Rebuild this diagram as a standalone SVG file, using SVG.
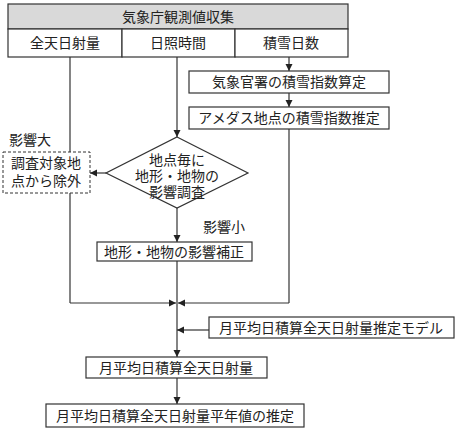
<svg xmlns="http://www.w3.org/2000/svg" width="460" height="429" viewBox="0 0 460 429">
<style>
.t{font-family:"Liberation Sans","Noto Sans CJK JP",sans-serif;font-size:14px;fill:#222;text-anchor:middle;dominant-baseline:central}
.b{fill:#fff;stroke:#333;stroke-width:1.2}
.l{fill:none;stroke:#333;stroke-width:1.2}
</style>
<defs>
<marker id="a" markerWidth="8" markerHeight="8" refX="7" refY="4" orient="auto" markerUnits="userSpaceOnUse">
<path d="M0,0.5 L7,4 L0,7.5 Z" fill="#222"/>
</marker>
</defs>
<rect width="460" height="429" fill="#fff"/>
<g id="connectors">
<line class="l" x1="70" y1="57" x2="70" y2="303"/>
<line class="l" x1="70" y1="303" x2="176" y2="303" marker-end="url(#a)"/>
<line class="l" x1="177" y1="57" x2="177" y2="137" marker-end="url(#a)"/>
<line class="l" x1="289" y1="57" x2="289" y2="71" marker-end="url(#a)"/>
<line class="l" x1="289" y1="93" x2="289" y2="107" marker-end="url(#a)"/>
<line class="l" x1="289" y1="129" x2="289" y2="303"/>
<line class="l" x1="289" y1="303" x2="178" y2="303" marker-end="url(#a)"/>
<line class="l" x1="106" y1="173" x2="90" y2="173" marker-end="url(#a)"/>
<line class="l" x1="177" y1="208" x2="177" y2="242" marker-end="url(#a)"/>
<line class="l" x1="177" y1="261" x2="177" y2="357" marker-end="url(#a)"/>
<line class="l" x1="209" y1="330" x2="177" y2="330" marker-end="url(#a)"/>
<line class="l" x1="177" y1="378" x2="177" y2="404" marker-end="url(#a)"/>
</g>
<g id="header">
<rect x="8" y="4" width="340" height="25" fill="#d9d9d9" stroke="#333" stroke-width="1.2"/>
<text class="t" x="178" y="17">気象庁観測値収集</text>
</g>
<g id="col1">
<rect class="b" x="8" y="29" width="114" height="28"/>
<text class="t" x="65" y="43">全天日射量</text>
</g>
<g id="col2">
<rect class="b" x="122" y="29" width="113" height="28"/>
<text class="t" x="178" y="43">日照時間</text>
</g>
<g id="col3">
<rect class="b" x="235" y="29" width="113" height="28"/>
<text class="t" x="291" y="43">積雪日数</text>
</g>
<g id="snow1">
<rect class="b" x="189" y="71" width="200" height="22"/>
<text class="t" x="289" y="82">気象官署の積雪指数算定</text>
</g>
<g id="snow2">
<rect class="b" x="189" y="107" width="200" height="22"/>
<text class="t" x="289" y="118">アメダス地点の積雪指数推定</text>
</g>
<g id="decision">
<polygon class="b" points="177,137 248,173 177,208 106,173"/>
<text class="t" x="177" y="160">地点毎に</text>
<text class="t" x="177" y="176">地形・地物の</text>
<text class="t" x="177" y="192">影響調査</text>
</g>
<g id="exclude">
<rect x="3" y="152" width="87" height="41" fill="#fff" stroke="#333" stroke-width="1" stroke-dasharray="3,2"/>
<text class="t" x="46" y="163">調査対象地</text>
<text class="t" x="46" y="181">点から除外</text>
</g>
<text class="t" x="30" y="140">影響大</text>
<text class="t" x="224" y="227">影響小</text>
<g id="correct">
<rect class="b" x="97" y="242" width="155" height="19"/>
<text class="t" x="174" y="251.5">地形・地物の影響補正</text>
</g>
<g id="model">
<rect class="b" x="209" y="317" width="245" height="21"/>
<text class="t" x="331" y="327.5">月平均日積算全天日射量推定モデル</text>
</g>
<g id="monthly">
<rect class="b" x="86" y="357" width="181" height="21"/>
<text class="t" x="176" y="367.5">月平均日積算全天日射量</text>
</g>
<g id="normal">
<rect class="b" x="46" y="404" width="258" height="23"/>
<text class="t" x="175" y="415.5">月平均日積算全天日射量平年値の推定</text>
</g>
</svg>
